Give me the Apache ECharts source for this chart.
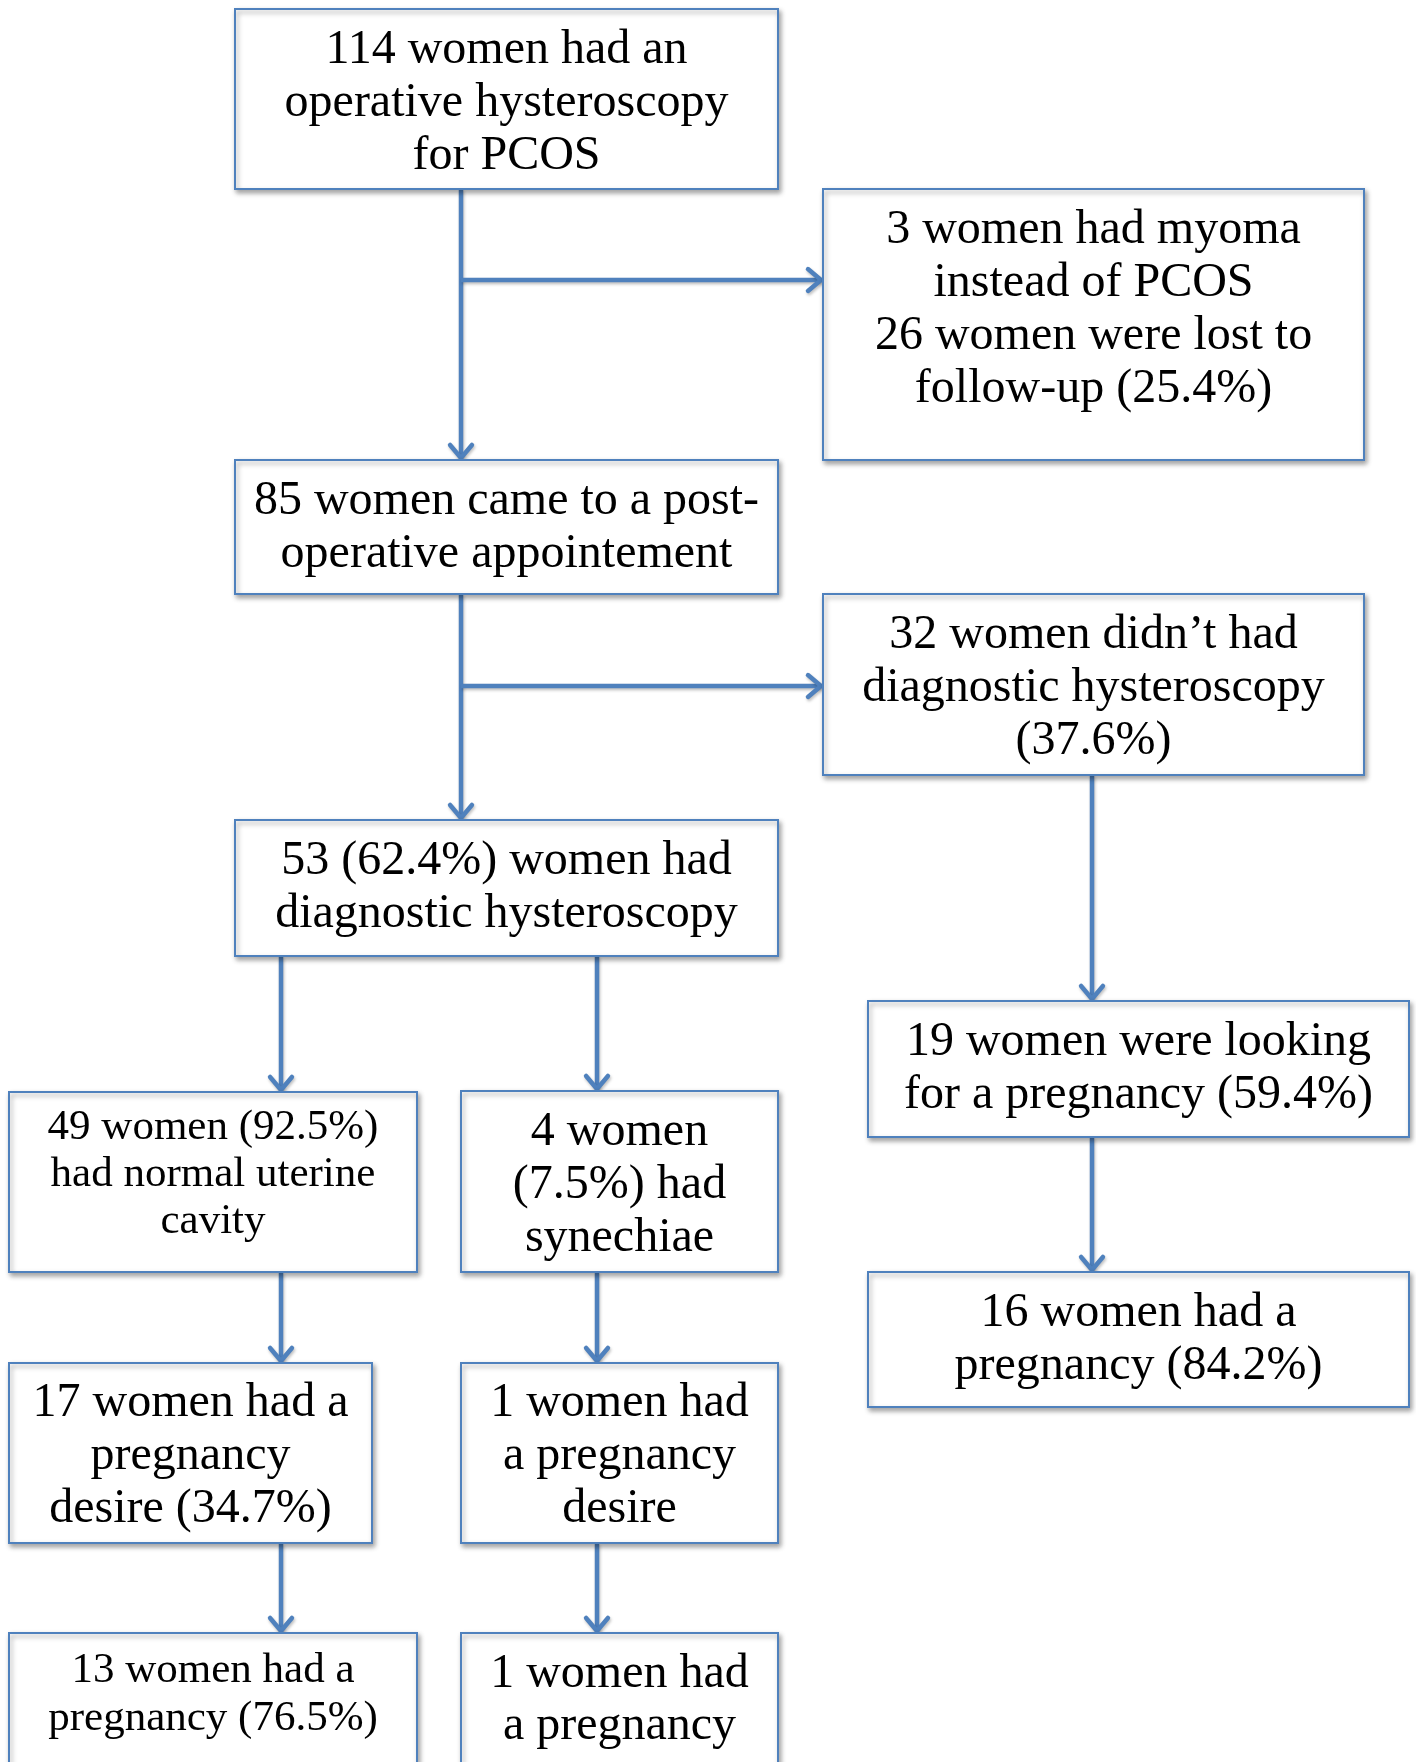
<!DOCTYPE html>
<html>
<head>
<meta charset="utf-8">
<script src="https://cdn.jsdelivr.net/npm/echarts@6/dist/echarts.min.js"></script>
<style>
html,body{margin:0;padding:0;background:#fff;}
#chart{width:1416px;height:1762px;}
</style>
</head>
<body>
<div id="chart"></div>
<script>
// Flowchart box texts (one entry per box)
const boxLabels = [
  "114 women had an\noperative hysteroscopy\nfor PCOS",
  "3 women had myoma\ninstead of PCOS\n26 women were lost to\nfollow-up (25.4%)",
  "85 women came to a post-\noperative appointement",
  "32 women didn\u2019t had\ndiagnostic hysteroscopy\n(37.6%)",
  "53 (62.4%) women had\ndiagnostic hysteroscopy",
  "19 women were looking\nfor a pregnancy (59.4%)",
  "49 women (92.5%)\nhad normal uterine\ncavity",
  "4 women\n(7.5%) had\nsynechiae",
  "16 women had a\npregnancy (84.2%)",
  "17 women had a\npregnancy\ndesire (34.7%)",
  "1 women had\na pregnancy\ndesire",
  "13 women had a\npregnancy (76.5%)",
  "1 women had\na pregnancy"
];

// Layout (page units): left, top, right, bottom
const boxLayout = [
  [235, 9, 778, 189],
  [823, 189, 1364, 460],
  [235, 460, 778, 594],
  [823, 594, 1364, 775],
  [235, 820, 778, 956],
  [868, 1001, 1409, 1137],
  [9, 1092, 417, 1272],
  [461, 1091, 778, 1272],
  [868, 1272, 1409, 1407],
  [9, 1363, 372, 1543],
  [461, 1363, 778, 1543],
  [9, 1633, 417, 1820],
  [461, 1633, 778, 1820]
];
// Text style per box: font size, line height, top padding
const boxTextStyle = [
  [48, 53, 15], [48, 53, 15], [48, 53, 15], [48, 53, 15], [48, 53, 15],
  [48, 53, 15], [43, 47, 12], [48, 53, 15], [48, 53, 15], [48, 53, 14],
  [48, 53, 14], [43, 48, 14], [48, 52, 15]
];
// Connectors: x0, y0, x1, y1 (arrow head at end)
const connectorLayout = [
  [461, 189, 461, 460],
  [461, 280, 823, 280],
  [461, 594, 461, 820],
  [461, 686, 823, 686],
  [1092, 775, 1092, 1001],
  [281, 956, 281, 1092],
  [597, 956, 597, 1091],
  [1092, 1137, 1092, 1272],
  [281, 1272, 281, 1363],
  [597, 1272, 597, 1363],
  [281, 1543, 281, 1633],
  [597, 1543, 597, 1633]
];

const BLUE = '#4F81BD';
const chart = echarts.init(document.getElementById('chart'));

function renderBox(params, api) {
  const i = params.dataIndex;
  const p0 = api.coord([api.value(0), api.value(1)]);
  const p1 = api.coord([api.value(2), api.value(3)]);
  const ts = boxTextStyle[i];
  return {
    type: 'group',
    children: [
      {
        type: 'rect',
        shape: { x: p0[0], y: p0[1], width: p1[0] - p0[0], height: p1[1] - p0[1] },
        style: {
          fill: '#fff', stroke: BLUE, lineWidth: 2,
          shadowBlur: 5, shadowOffsetX: 2, shadowOffsetY: 3,
          shadowColor: 'rgba(0,0,0,0.35)'
        }
      },
      {
        type: 'text',
        x: (p0[0] + p1[0]) / 2,
        y: p0[1] + ts[2],
        style: {
          text: boxLabels[i],
          font: ts[0] + 'px "Liberation Serif"',
          lineHeight: ts[1],
          fill: '#000',
          align: 'center',
          verticalAlign: 'top'
        }
      }
    ]
  };
}

function renderConnector(params, api) {
  const p0 = api.coord([api.value(0), api.value(1)]);
  const p1 = api.coord([api.value(2), api.value(3)]);
  const dx = p1[0] - p0[0], dy = p1[1] - p0[1];
  const len = Math.sqrt(dx * dx + dy * dy);
  const ux = dx / len, uy = dy / len;
  const tip = [p1[0] - ux * 2, p1[1] - uy * 2];
  const arm = 17, ang = 40 * Math.PI / 180;
  const c = Math.cos(ang), s = Math.sin(ang);
  const a1 = [tip[0] - arm * (ux * c - uy * s), tip[1] - arm * (uy * c + ux * s)];
  const a2 = [tip[0] - arm * (ux * c + uy * s), tip[1] - arm * (uy * c - ux * s)];
  const st = {
    stroke: BLUE, lineWidth: 4.5, fill: null, lineCap: 'round', lineJoin: 'round',
    shadowBlur: 3, shadowOffsetX: 1, shadowOffsetY: 2, shadowColor: 'rgba(0,0,0,0.25)'
  };
  return {
    type: 'group',
    children: [
      { type: 'line', shape: { x1: p0[0], y1: p0[1], x2: tip[0], y2: tip[1] }, style: Object.assign({}, st, { lineCap: 'butt' }) },
      { type: 'polyline', shape: { points: [a1, tip, a2] }, style: st }
    ]
  };
}

chart.setOption({
  animation: false,
  backgroundColor: '#fff',
  grid: { left: 0, right: 0, top: 0, bottom: 0 },
  xAxis: { type: 'value', min: 0, max: 1416, show: false },
  yAxis: { type: 'value', min: 0, max: 1762, inverse: true, show: false },
  series: [
    {
      type: 'custom', name: 'connectors', renderItem: renderConnector,
      data: connectorLayout, clip: true, z: 1
    },
    {
      type: 'custom', name: 'boxes', renderItem: renderBox,
      data: boxLayout, clip: true, z: 2
    }
  ]
});
</script>
</body>
</html>
